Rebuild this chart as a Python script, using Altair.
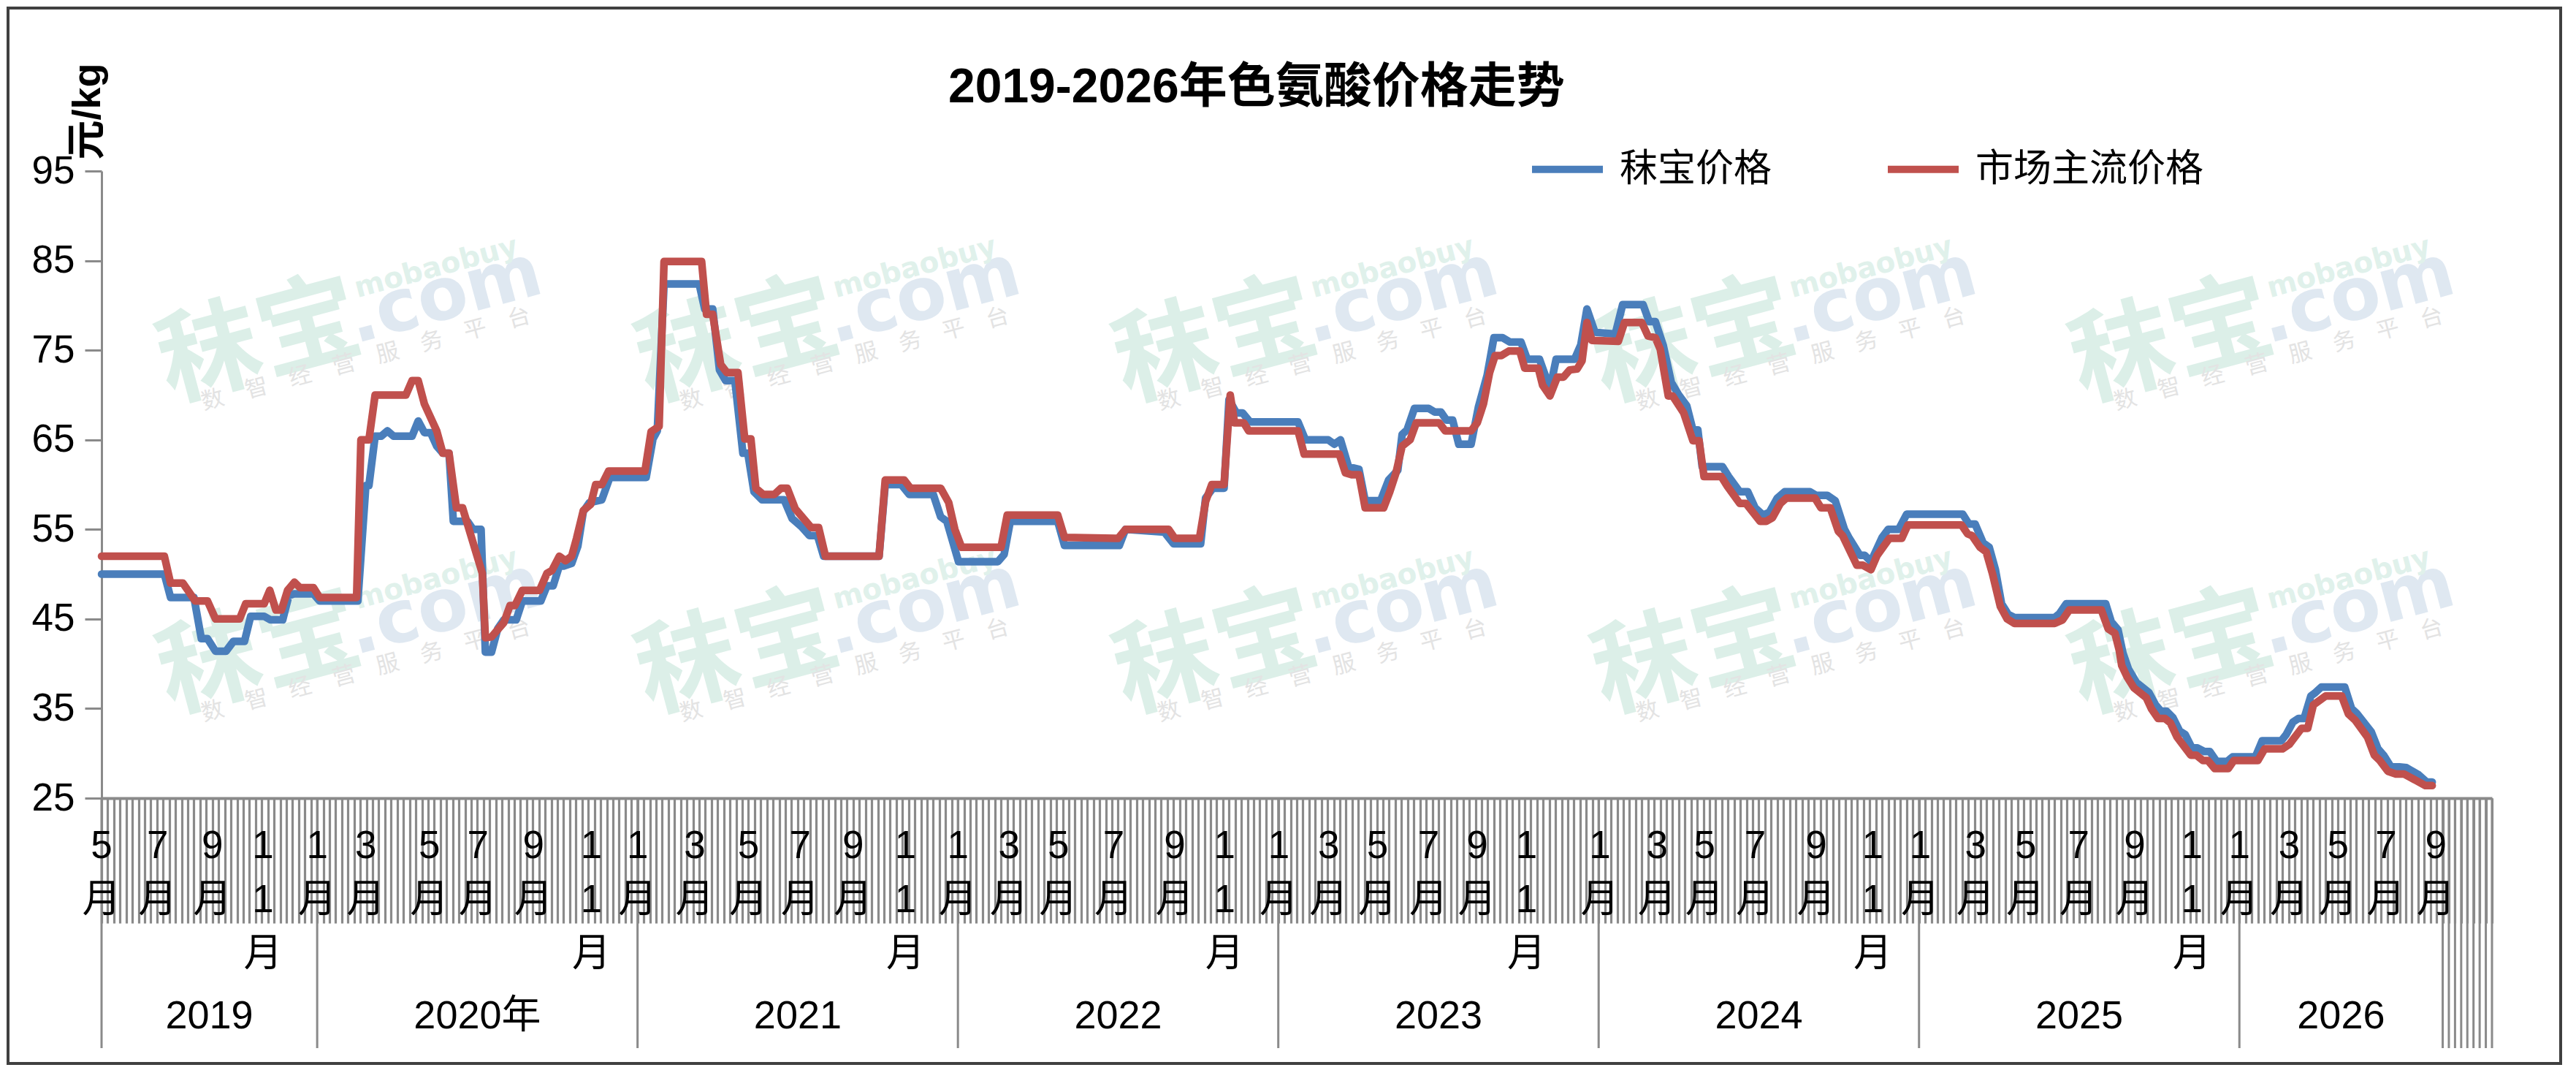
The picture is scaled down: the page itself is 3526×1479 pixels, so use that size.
import altair as alt
import pandas as pd

# ---------------- data ----------------
series_names = ["秣宝价格", "市场主流价格"]
series_colors = ["#4A7EBB", "#C0504D"]

# x = category (week) index from May 2019, y = 元/kg
blue_weeks = [0, 10.2, 11.2, 15, 16.2, 17.2, 18.5, 20.2, 21.4, 23.2, 24.2, 26.4, 27.4, 29.4, 30.4, 31.2,
              34.4, 35.4, 41.6, 42.9, 43.4, 44.4, 45.4, 46.4, 47.4, 50.4, 51.4, 52.4, 53.4, 54.4, 55.4,
              56.4, 57.1, 59.4, 60.3, 61.6, 62.3, 63.3, 64.3, 65.3, 67.3, 68.3, 71.3, 72.3, 73.3, 74.3,
              75, 76.3, 77.3, 78.2, 79.2, 81.2, 82.5, 88.4, 89.5, 90.2, 91.3, 97, 97.9, 99.2, 100.3,
              101.3, 102.8, 104.1, 104.9, 105.9, 107.2, 110.8, 112.1, 113.6, 114.9, 116.2, 117.2, 126.2,
              127.2, 129.8, 131.1, 135, 136.2, 137.2, 139.1, 145.5, 146.5, 147.5, 155.2, 156.3, 165.2,
              166.2, 172.5, 174, 178.4, 179.2, 180.4, 182.2, 183, 184.2, 185.2, 186.4, 194.2, 195.4,
              199.1, 200.1, 201.1, 202.4, 204.1, 205.1, 207.6, 208.9, 210.4, 211.1, 211.9, 213.1, 215.4,
              216.4, 217.4, 218.3, 219.3, 220.3, 222.3, 223.5, 224.9, 226, 227.4, 228.6, 230.4, 231.4,
              233.4, 235.1, 236.1, 239.1, 240.1, 241.1, 242.4, 245.7, 246.9, 250.2, 251.2, 252.2, 253.5,
              254.8, 256, 257.3, 258.3, 259.1, 259.8, 263.1, 264.1, 265.9, 267.2, 268.4, 269.7, 270.7,
              272, 273.2, 277.3, 278.3, 280.1, 281.4, 282.9, 283.6, 285.4, 286.2, 287.2, 289, 290, 291.7,
              293, 302.1, 303.1, 304.1, 305.4, 306.4, 307.4, 308.4, 309.5, 310.5, 317, 317.8, 318.9,
              325.3, 326.2, 327.3, 328.1, 329, 330.3, 332.3, 333.4, 334.3, 335.2, 336.2, 337.3, 338.2,
              339.3, 340.2, 341.3, 342.2, 343.3, 345, 345.9, 349.6, 350.7, 353.8, 354.6, 355.7, 356.6,
              357.5, 358.6, 359.2, 360.3, 364.1, 365.2, 366, 368.4, 369.5, 370.4, 371.5, 374.1, 376.1,
              377.4, 378.3]
blue_values = [50, 50, 47.4, 47.4, 42.8, 42.8, 41.4, 41.4, 42.5, 42.5, 45.3, 45.3, 44.9, 44.9, 47.6, 47.8,
               47.8, 47, 47, 59.9, 59.9, 65.4, 65.4, 66, 65.4, 65.4, 67.1, 65.8, 65.8, 64.3, 63.5,
               63.5, 55.9, 55.9, 55, 55, 41.3, 41.3, 43.9, 44.9, 44.9, 47, 47, 48.7, 48.7, 50.9,
               50.9, 51.2, 53.1, 57, 58, 58.3, 60.8, 60.8, 65.1, 66, 82.4, 82.4, 79.6, 79.6, 72.8,
               71.6, 71.6, 63.5, 63.5, 59.2, 58.3, 58.3, 56.2, 55.3, 54.3, 54.3, 52, 52,
               60, 60, 58.9, 58.9, 56.4, 55.9, 51.4, 51.4, 52.2, 55.9, 55.9, 53.2, 53.2,
               55, 54.7, 53.4, 53.4, 58.5, 59.6, 59.6, 69.5, 68, 68, 67, 67, 65,
               65, 64.5, 65, 62, 61.7, 58.2, 58.2, 60.5, 61.6, 65.6, 66.1, 68.5, 68.5,
               68.1, 68.1, 67.2, 67.2, 64.5, 64.5, 68.7, 72.2, 76.4, 76.4, 75.9, 75.9, 74,
               74, 70.7, 74, 74, 75.6, 79.6, 77, 76.8, 80.1, 80.1, 78.2, 78.2, 75.5,
               71.4, 70, 68.8, 66.1, 66.1, 62, 62, 60.9, 59.2, 59.2, 57.4, 56.6, 56.9,
               58.5, 59.2, 59.2, 58.8, 58.8, 58.2, 55, 54.1, 52.1, 52.1, 51.4, 54.1, 55, 55,
               56.7, 56.7, 55.6, 55.6, 53.5, 53, 50.5, 46.7, 45.5, 45.15, 45.15, 45.6, 46.7,
               46.7, 44.7, 43.8, 41.2, 39.4, 37.9, 36.8, 35.4, 34.7, 34.7, 34, 32.5, 32.1,
               30.6, 30.6, 30.2, 30.2, 29.1, 29.1, 29.6, 29.6, 31.4, 31.4, 32.1, 33.5, 33.9,
               33.9, 36.4, 36.7, 37.4, 37.4, 35, 34.5, 32.4, 30.5, 29.8, 28.6, 28.4, 27.6,
               26.8, 26.8]

red_weeks = [0, 10.2, 11.2, 13.2, 15.2, 17.2, 18.5, 22.4, 23.4, 26.4, 27.3, 28.3, 29.2, 30.2, 31.3, 32.2,
             34.4, 35.4, 41.4, 42.1, 43.4, 44.4, 49.4, 50.4, 51.4, 52.4, 54.4, 55.4, 56.4, 57.6, 58.6,
             61.8, 62.3, 63.3, 65.3, 66.3, 67.1, 68.3, 71.1, 72.3, 73.1, 74.3, 75.3, 76.3, 77.1, 78.2,
             79.4, 80.2, 81.2, 82.3, 88.2, 89.2, 90.5, 91.3, 97.4, 98.2, 99.2, 100.5, 101.5, 103.3,
             104.4, 105.4, 106.2, 107.4, 109.2, 110.3, 111.3, 112.6, 115.2, 116.4, 117.5, 126.2, 127.2,
             130.3, 131.3, 136.2, 137.5, 138.5, 139.6, 146, 147, 155.2, 156.3, 165, 166.2, 173.2,
             174.2, 178.2, 179.2, 180.2, 182.2, 183.2, 183.9, 185.4, 186.2, 194.2, 195.2, 200.9, 201.9,
             202.9, 204.1, 205.1, 208.1, 209.1, 210.1, 211.1, 212.4, 213.4, 217.1, 218.1, 222.3, 223.3,
             224.3, 225.3, 226.2, 227.2, 228.4, 230.2, 231, 233.2, 233.9, 235.1, 236.3, 237.3, 238.3,
             239.5, 240.3, 241.1, 241.9, 246.2, 247.2, 250, 251, 252.2, 253, 254.3, 255, 256.8, 258.3,
             259.3, 260.1, 262.9, 263.9, 265.9, 266.9, 269.2, 270.2, 271.2, 272.5, 273.5, 278.1, 279.1,
             280.6, 281.9, 282.6, 284.9, 285.9, 287.2, 288.2, 290.2, 292.2, 293.2, 301.9, 302.9, 303.6,
             304.9, 305.9, 306.9, 308.2, 309.3, 310.5, 317, 318.3, 319.4, 324.6, 325.7, 326.8, 327.5,
             327.9, 328.8, 329.9, 331.9, 332.7, 333.8, 334.9, 335.8, 336.9, 339.1, 340, 341.1, 341.9,
             343, 345.2, 346.1, 350, 351.1, 354, 355.1, 357.1, 358.1, 359, 361, 363.6, 364.7, 365.8,
             367.8, 368.9, 369.8, 371.1, 372.4, 373.7, 374.8, 377.2, 378.3]
red_values = [52, 52, 49, 49, 47, 47, 45, 45, 46.7, 46.7, 48.2, 46, 46, 48.2, 49.1, 48.5,
              48.5, 47.4, 47.4, 65, 65, 70, 70, 71.6, 71.6, 69, 66, 63.5, 63.5, 57.4, 57.4,
              50.1, 42.9, 43, 44.6, 46.5, 46.5, 48.2, 48.2, 50.1, 50.4, 52, 51.5, 52, 54, 57.1,
              57.8, 60, 60, 61.5, 61.5, 65.9, 66.5, 84.9, 84.9, 79, 79, 73.4, 72.5, 72.5,
              65.1, 65.1, 59.6, 58.9, 58.9, 59.6, 59.6, 57.3, 55.2, 55.2, 52, 52, 60.5,
              60.5, 59.6, 59.6, 58, 55, 53, 53, 56.6, 56.6, 54.1, 54, 55, 55,
              54, 54, 58.1, 60, 60, 70, 66.9, 66.9, 66, 66, 63.4, 63.4, 61.3,
              61.1, 61.1, 57.4, 57.4, 59.2, 61.3, 64.3, 65, 66.9, 66.9, 66, 66, 66.9,
              69, 72.5, 74.4, 74.4, 74.9, 74.9, 73, 73, 71.1, 69.9, 72, 72, 72.8,
              72.9, 73.8, 78.1, 76.1, 76, 78.1, 78.1, 76.6, 76.4, 75.1, 69.9, 69.9, 68, 64.9,
              64.9, 60.9, 60.9, 59.8, 57.9, 57.9, 55.9, 55.9, 56.3, 57.9, 58.5, 58.5, 57.4,
              57.4, 54.8, 54.3, 51, 51, 50.5, 52.1, 54, 54, 55.5, 55.5, 54.5, 54.3,
              53, 52.5, 50.1, 46.4, 45, 44.5, 44.5, 44.9, 46, 46, 43.9, 43.4, 41.5,
              39.8, 38.5, 37.3, 36.2, 35, 33.9, 33.9, 33.4, 31.8, 29.8, 29.8, 29.2, 29.2,
              28.3, 28.3, 29.2, 29.2, 30.5, 30.5, 31, 32.8, 32.8, 35.4, 36.4, 36.4, 34.4, 33.7,
              31.8, 29.8, 29.2, 28, 27.7, 27.7, 27.3, 26.4, 26.4]

y_ticks = [25, 35, 45, 55, 65, 75, 85, 95]

month_texts = ["5月", "7月", "9月", "11月",
               "1月", "3月", "5月", "7月", "9月", "11月",
               "1月", "3月", "5月", "7月", "9月", "11月",
               "1月", "3月", "5月", "7月", "9月", "11月",
               "1月", "3月", "5月", "7月", "9月", "11月",
               "1月", "3月", "5月", "7月", "9月", "11月",
               "1月", "3月", "5月", "7月", "9月", "11月",
               "1月", "3月", "5月", "7月", "9月"]
month_weeks = [0, 9.1, 18, 26.2,
               35, 42.9, 53.2, 61.1, 70.1, 79.5,
               87, 96.3, 105, 113.4, 122, 130.5,
               139, 147.3, 155.3, 164.3, 174.2, 182.3,
               191.1, 199.2, 207.1, 215.4, 223.3, 231.3,
               243.2, 252.5, 260.2, 268.4, 278.3, 287.5,
               295.2, 304.2, 312.3, 320.9, 330, 339.3,
               347, 355.1, 363, 370.8, 378.9]

year_texts = ["2019", "2020年", "2021", "2022", "2023", "2024", "2025", "2026"]
year_starts = [0, 35, 87, 139, 191, 243, 295, 347]
year_end = 380
n_weeks = 388

title_text = "2019-2026年色氨酸价格走势"
unit_text = "元/kg"
wm_brand = "秣宝"
wm_domain = ".com"
wm_en = "mobaobuy"
wm_slogan = "数　智　经　营　服　务　平　台"

# ---------------- layout helpers (reference pixel -> data coordinates) ----------------
PLOT_L, PLOT_T, PLOT_W, PLOT_H = 139, 234, 3272, 858
Y_MIN, Y_MAX = 25, 95
FONT = "Liberation Sans, Noto Sans CJK SC"
GRAY = "#8a8a8a"


def wk(px):
    return (px - PLOT_L) / PLOT_W * n_weeks


def val(py):
    return Y_MAX - (py - PLOT_T) / PLOT_H * (Y_MAX - Y_MIN)


xs = alt.Scale(domain=[0, n_weeks], nice=False, zero=False)
ys = alt.Scale(domain=[Y_MIN, Y_MAX], nice=False, zero=False)

x_axis = alt.Axis(
    values=list(range(0, n_weeks + 1)), labels=False, tickSize=171, tickWidth=3.2,
    tickColor=GRAY, domainColor=GRAY, domainWidth=4, grid=False, title=None,
)
y_axis = alt.Axis(
    values=y_ticks, tickSize=23, tickWidth=3, tickColor=GRAY, domainColor=GRAY, domainWidth=3,
    labelFontSize=53, labelFont=FONT, labelColor="black", labelPadding=14, grid=False,
    title=unit_text, titleAngle=270, titleX=-19, titleY=-82, titleAlign="center",
    titleBaseline="middle", titleFontSize=54, titleFont=FONT, titleFontWeight="bold",
    titleColor="black",
)


def X(field):
    return alt.X(field, scale=xs, axis=x_axis)


def Y(field):
    return alt.Y(field, scale=ys, axis=y_axis)


# ---------------- tables ----------------
blue_df = pd.DataFrame({"week": blue_weeks, "price": blue_values, "series": series_names[0]})
red_df = pd.DataFrame({"week": red_weeks, "price": red_values, "series": series_names[1]})

month_df = pd.DataFrame({
    "week": month_weeks,
    "label": ["\n".join(list(t[:-1]) + ["月"]) for t in month_texts],
    "y": val(1132),
})
bounds = year_starts + [year_end]
year_df = pd.DataFrame({
    "week": [(bounds[i] + bounds[i + 1]) / 2 for i in range(len(year_texts))],
    "label": year_texts,
    "y": val(1407),
})
sep_df = pd.DataFrame({
    "week": year_starts + list(range(year_end, n_weeks + 1)),
    "y": Y_MIN,
    "y2": val(1434),
})

wm_cols = [341, 996, 1650, 2305, 2959]
wm_rows = [462, 888]


def wm_table(dx, dy):
    rows = []
    for cy in wm_rows:
        for cx in wm_cols:
            rows.append({"week": wk(cx + dx), "y": val(cy + dy)})
    return pd.DataFrame(rows)


def wm_layer(text, dx, dy, size, color, weight="bold", font=FONT):
    return alt.Chart(wm_table(dx, dy)).mark_text(
        text=text, angle=345, align="center", baseline="middle",
        fontSize=size, fontWeight=weight, font=font, color=color,
    ).encode(x=X("week:Q"), y=Y("y:Q"))


wm = [
    wm_layer(wm_brand, 15, 8, 140, "#dcefe8", weight="bold", font="Noto Sans CJK SC"),
    wm_layer(wm_domain, 268, -56, 100, "#dfe8f1", font="DejaVu Sans"),
    wm_layer(wm_en, 256, -96, 39, "#e0f1eb", font="DejaVu Sans"),
    wm_layer(wm_slogan, 160, 30, 31, "#e3e3e3", weight="normal", font="Noto Sans CJK SC"),
]

frame_df = pd.DataFrame({"x": [wk(11)], "x2": [wk(3505)], "y": [val(11)], "y2": [val(1455)]})
frame = alt.Chart(frame_df).mark_rect(fillOpacity=0, stroke="#404040", strokeWidth=4).encode(
    x=X("x:Q"), x2="x2:Q", y=Y("y:Q"), y2="y2:Q",
)

seps = alt.Chart(sep_df).mark_rule(color=GRAY, strokeWidth=3).encode(
    x=X("week:Q"), y=Y("y:Q"), y2="y2:Q",
)

months = alt.Chart(month_df).mark_text(
    align="center", baseline="top", lineBreak="\n", lineHeight=74,
    fontSize=53, font=FONT, color="black",
).encode(x=X("week:Q"), y=Y("y:Q"), text="label:N")

years = alt.Chart(year_df).mark_text(
    align="center", baseline="alphabetic", fontSize=54, font=FONT, color="black",
).encode(x=X("week:Q"), y=Y("y:Q"), text="label:N")

title_df = pd.DataFrame({"week": [wk(1298)], "y": [val(140)], "label": [title_text]})
title = alt.Chart(title_df).mark_text(
    align="left", baseline="alphabetic", fontSize=66, fontWeight="bold", font=FONT, color="black",
).encode(x=X("week:Q"), y=Y("y:Q"), text="label:N")

color_enc = alt.Color(
    "series:N",
    scale=alt.Scale(domain=series_names, range=series_colors),
    legend=alt.Legend(
        title=None, orient="none", legendX=1953, legendY=-56, direction="horizontal",
        symbolType="stroke", symbolStrokeWidth=10, symbolSize=9409,
        labelFontSize=52, labelFont=FONT, labelColor="black", labelOffset=18, labelLimit=1000,
        columnPadding=138, padding=0,
    ),
)

blue = alt.Chart(blue_df).mark_line(strokeWidth=10.5, strokeJoin="round", strokeCap="round").encode(
    x=X("week:Q"), y=Y("price:Q"), color=color_enc,
)
red = alt.Chart(red_df).mark_line(strokeWidth=10.5, strokeJoin="round", strokeCap="round").encode(
    x=X("week:Q"), y=Y("price:Q"), color=color_enc,
)

chart = alt.layer(*wm, frame, seps, months, years, title, blue, red).properties(
    width=PLOT_W, height=PLOT_H,
    autosize=alt.AutoSizeParams(type="none"),
    padding={"left": 131, "top": 226, "right": 97, "bottom": 366},
    background="white",
).configure_view(strokeWidth=0)

chart.save("out.html", embed_options={"renderer": "svg", "actions": False})
